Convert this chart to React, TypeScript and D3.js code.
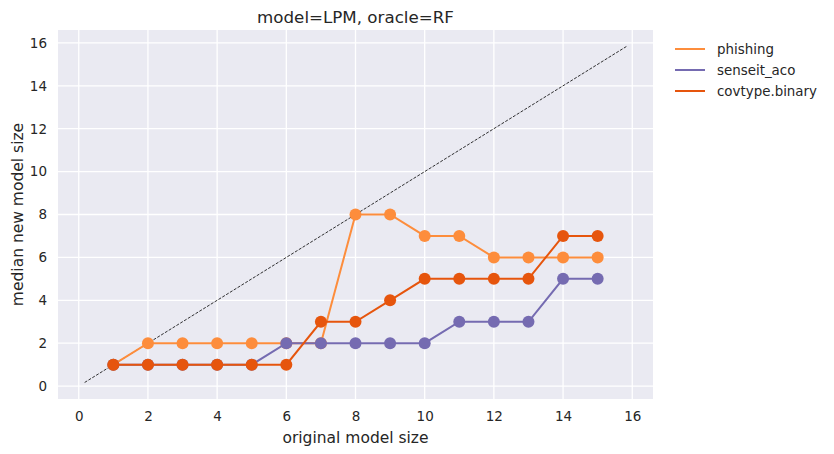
import { useEffect, useRef } from 'react';
import * as d3 from 'd3';

const sizes = [1, 2, 3, 4, 5, 6, 7, 8, 9, 10, 11, 12, 13, 14, 15];
const phishing = [1, 2, 2, 2, 2, 2, 2, 8, 8, 7, 7, 6, 6, 6, 6];
const senseitAco = [1, 1, 1, 1, 1, 2, 2, 2, 2, 2, 3, 3, 3, 5, 5];
const covtypeBinary = [1, 1, 1, 1, 1, 1, 3, 3, 4, 5, 5, 5, 5, 7, 7];
const seriesNames = ['phishing', 'senseit_aco', 'covtype.binary'];
const seriesColors = ['#fd8d3c', '#756bb1', '#e6550d'];
const tickValues = [0, 2, 4, 6, 8, 10, 12, 14, 16];
const diagonal = [0.17, 15.83];

export default function App() {
  const ref = useRef<SVGSVGElement>(null);

  useEffect(() => {
    const svg = d3.select(ref.current);
    svg.selectAll('*').remove();

    const left = 58, right = 653, top = 30, bottom = 399;
    const x = d3.scaleLinear().domain([-0.6, 16.6]).range([left, right]);
    const y = d3.scaleLinear().domain([-0.6, 16.6]).range([bottom, top]);
    const font = 'DejaVu Sans, sans-serif';
    const ink = '#262626';

    svg.append('rect')
      .attr('x', left).attr('y', top)
      .attr('width', right - left).attr('height', bottom - top)
      .attr('fill', '#eaeaf2');

    // grid
    const grid = svg.append('g').attr('stroke', '#fff').attr('stroke-width', 1.3);
    tickValues.forEach(t => {
      grid.append('line').attr('x1', x(t)).attr('x2', x(t)).attr('y1', top).attr('y2', bottom);
      grid.append('line').attr('y1', y(t)).attr('y2', y(t)).attr('x1', left).attr('x2', right);
    });

    // tick labels
    const xAxis = svg.append('g')
      .attr('transform', `translate(0,${bottom + 12})`)
      .call(d3.axisBottom(x).tickValues(tickValues).tickSize(0).tickPadding(0));
    xAxis.select('.domain').remove();
    xAxis.selectAll('text').attr('fill', ink).attr('font-size', 13.5).attr('font-family', font);

    const yAxis = svg.append('g')
      .attr('transform', `translate(${left - 11},0)`)
      .call(d3.axisLeft(y).tickValues(tickValues).tickSize(0).tickPadding(0));
    yAxis.select('.domain').remove();
    yAxis.selectAll('text').attr('fill', ink).attr('font-size', 13.5).attr('font-family', font);

    // diagonal reference
    svg.append('line')
      .attr('x1', x(diagonal[0])).attr('y1', y(diagonal[0]))
      .attr('x2', x(diagonal[1])).attr('y2', y(diagonal[1]))
      .attr('stroke', '#000').attr('stroke-width', 0.8)
      .attr('stroke-dasharray', '3,1.5');

    const allSeries = [phishing, senseitAco, covtypeBinary];
    const line = d3.line<number>().x((_, i) => x(sizes[i])).y(d => y(d));

    allSeries.forEach((vals, k) => {
      const g = svg.append('g');
      g.append('path')
        .attr('d', line(vals))
        .attr('fill', 'none')
        .attr('stroke', seriesColors[k])
        .attr('stroke-width', 2);
      g.selectAll('circle')
        .data(vals)
        .enter().append('circle')
        .attr('cx', (_, i) => x(sizes[i]))
        .attr('cy', d => y(d))
        .attr('r', 6)
        .attr('fill', seriesColors[k]);
    });

    // title and labels
    svg.append('text')
      .attr('x', (left + right) / 2).attr('y', 23)
      .attr('text-anchor', 'middle')
      .attr('font-size', 16.7).attr('font-family', font).attr('fill', ink)
      .text('model=LPM, oracle=RF');

    svg.append('text')
      .attr('x', (left + right) / 2).attr('y', 443)
      .attr('text-anchor', 'middle')
      .attr('font-size', 15.5).attr('font-family', font).attr('fill', ink)
      .text('original model size');

    svg.append('text')
      .attr('transform', `translate(23,${(top + bottom) / 2}) rotate(-90)`)
      .attr('text-anchor', 'middle')
      .attr('font-size', 15.5).attr('font-family', font).attr('fill', ink)
      .text('median new model size');

    // legend
    const legend = svg.append('g');
    seriesNames.forEach((name, k) => {
      const ly = 49 + k * 21;
      legend.append('line')
        .attr('x1', 675).attr('x2', 705).attr('y1', ly).attr('y2', ly)
        .attr('stroke', seriesColors[k]).attr('stroke-width', 2);
      legend.append('text')
        .attr('x', 717).attr('y', ly).attr('dy', '0.35em')
        .attr('font-size', 13.4).attr('font-family', font).attr('fill', ink)
        .text(name);
    });
  }, []);

  return (
    <svg ref={ref} width={834} height={454} style={{ position: 'absolute', left: 0, top: 0 }} />
  );
}
